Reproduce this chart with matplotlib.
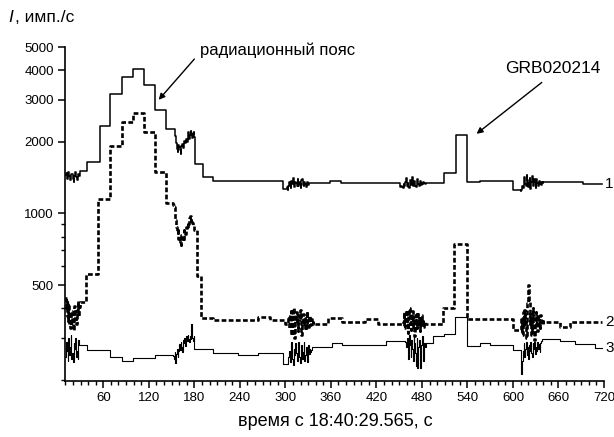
import numpy as np
import matplotlib.pyplot as plt
from matplotlib.ticker import FixedLocator, NullFormatter

plt.rcParams['font.family'] = ['Liberation Sans', 'DejaVu Sans']

# channel 1: plateau starts (s) and count rates
c1_t = [29, 38, 55, 69, 84, 99, 114, 128, 143, 181, 191, 205, 297, 332, 359, 373, 486, 509, 525, 540, 556, 600, 640, 692, 718]
c1_v = [1510, 1650, 2330, 3170, 3750, 4050, 3450, 2720, 2260, 1620, 1420, 1365, 1270, 1345, 1370, 1345, 1345, 1480, 2140, 1360, 1372, 1255, 1350, 1330, 1330]
# channel 1: fast fluctuation bursts, 1 s sampling
c1_b1 = [1450, 1480, 1390, 1420, 1500, 1440, 1380, 1410, 1470, 1460, 1400, 1350, 1430, 1490, 1420, 1380, 1440, 1470, 1430]
c1_b2 = [2230, 2120, 1980, 1870, 1820, 1940, 1900, 1850, 1780, 1920, 1960, 1880, 1940, 2010,
         1970, 2050, 2000, 2110, 2190, 2060, 2140, 2230, 2170, 2080, 2150, 2200, 2100]
c1_b3 = [1290, 1260, 1310, 1350, 1300, 1280, 1370, 1330, 1410, 1320, 1290, 1360, 1340, 1300, 1390,
         1310, 1350, 1330, 1280, 1380, 1400, 1320, 1300, 1360, 1330, 1290, 1340, 1350, 1320, 1340]
c1_b4 = [1290, 1295, 1300, 1290, 1285, 1330, 1300, 1360, 1410, 1310, 1340, 1290, 1280, 1380, 1350, 1320, 1420, 1300,
         1340, 1370, 1310, 1290, 1360, 1400, 1330, 1300, 1350, 1370, 1320, 1340, 1330, 1350, 1340, 1335, 1340]
c1_b5 = [1250, 1240, 1250, 1310, 1280, 1360, 1420, 1330, 1300, 1450, 1380, 1290, 1340, 1410, 1270, 1360,
         1440, 1320, 1300, 1390, 1350, 1280, 1400, 1340, 1310, 1370, 1330, 1360, 1320, 1350, 1345]
c1_bursts = [(10, c1_b1), (154, c1_b2), (302, c1_b3), (451, c1_b4), (609, c1_b5)]

# channel 2
c2_t = [29, 37, 53, 69, 84, 99, 114, 128, 143, 180, 183, 189, 205, 264, 280, 300, 337, 356, 374, 405, 422, 486, 508, 522, 540, 600, 640, 662, 675, 718]
c2_v = [425, 557, 1150, 1915, 2420, 2650, 2195, 1500, 1110, 850, 545, 364, 358, 366, 358, 345, 342, 363, 351, 359, 344, 342, 400, 746, 359, 323, 351, 333, 351, 351]
c2_b1 = [400, 440, 370, 355, 420, 340, 330, 365, 390, 350, 325, 380, 410, 360, 345, 395, 430, 370, 405]
c2_b2 = [1090, 1060, 1000, 940, 880, 830, 870, 780, 800, 760, 740, 810, 790, 770,
         850, 830, 820, 880, 860, 920, 900, 960, 980, 930, 950, 910, 890, 870]
c2_b3 = [370, 330, 345, 390, 310, 360, 400, 335, 300, 355, 385, 345, 320, 375, 360, 395, 330,
         310, 350, 380, 340, 365, 325, 355, 390, 345, 335, 370, 350, 340, 360, 345, 350]
c2_b4 = [350, 385, 330, 360, 395, 340, 315, 370, 400, 345, 325, 360, 390, 335, 350, 305,
         375, 355, 330, 385, 345, 365, 320, 350, 375, 340, 355, 335, 350, 345, 342]
c2_b5 = [325, 330, 360, 310, 385, 340, 395, 350, 300, 370, 420, 500, 430, 345, 380, 310,
         360, 400, 330, 295, 350, 385, 340, 320, 370, 355, 330, 375, 350, 345, 352]
c2_bursts = [(10, c2_b1), (152, c2_b2), (304, c2_b3), (455, c2_b4), (609, c2_b5)]

# channel 3
c3_t = [29, 38, 69, 84, 99, 128, 180, 205, 238, 264, 297, 335, 361, 374, 433, 486, 495, 509, 523, 540, 556, 570, 600, 638, 662, 682, 708, 718]
c3_v = [280, 266, 249, 241, 247, 254, 270, 259, 254, 259, 233, 275, 286, 281, 291, 286, 305, 312, 367, 277, 286, 280, 268, 296, 291, 284, 272, 272]
c3_b1 = [250, 290, 265, 240, 300, 255, 275, 310, 245, 260, 238, 285, 270, 300, 250, 265, 245, 295, 280]
c3_b2 = [252, 245, 262, 235, 258, 270, 250, 265, 282, 268, 290, 275, 262, 295,
         285, 300, 278, 305, 292, 310, 298, 288, 305, 296, 345, 300, 292, 305]
c3_b3 = [250, 265, 238, 280, 290, 245, 232, 270, 255, 285, 260, 240, 275, 290, 250, 235,
         268, 280, 245, 262, 288, 240, 255, 275, 265, 238, 280, 258, 270, 262, 268]
c3_b4 = [290, 275, 300, 260, 245, 310, 280, 250, 295, 270, 240, 305, 285, 260,
         230, 300, 225, 275, 295, 250, 225, 280, 305, 260, 240, 285, 275, 280]
c3_b5 = [212, 240, 265, 285, 250, 270, 290, 255, 275, 245, 280, 265, 290, 260,
         250, 285, 270, 288, 258, 276, 265, 290, 270, 282, 262, 285, 291]
c3_bursts = [(10, c3_b1), (152, c3_b2), (304, c3_b3), (458, c3_b4), (611, c3_b5)]

x_major = [60, 120, 180, 240, 300, 360, 420, 480, 540, 600, 660, 720]
y_major = [500, 1000, 2000, 3000, 4000, 5000]
y_minor = [200, 300, 400, 600, 700, 800, 900]


def build(steps_t, steps_v, bursts):
    """merge plateaus and 1-second bursts into one time-ordered step series"""
    pts = list(zip(steps_t, steps_v))
    for t0, vals in bursts:
        pts += [(t0 + i, v) for i, v in enumerate(vals)]
    pts.sort(key=lambda p: p[0])
    t = np.array([p[0] for p in pts], dtype=float)
    v = np.array([p[1] for p in pts], dtype=float)
    return t, v


fig = plt.figure(figsize=(6.14, 4.37), dpi=100)
ax = fig.add_axes([65 / 614, 56 / 437, 539 / 614, 334 / 437])

t1, v1 = build(c1_t, c1_v, c1_bursts)
t2, v2 = build(c2_t, c2_v, c2_bursts)
t3, v3 = build(c3_t, c3_v, c3_bursts)

ax.plot(t1, v1, drawstyle='steps-post', color='black', lw=1.1)
ax.plot(t2, v2, drawstyle='steps-post', color='black', lw=1.9, linestyle=(0, (1.8, 0.9)))
ax.plot(t3, v3, drawstyle='steps-post', color='black', lw=0.8)

ax.set_yscale('log')
ax.set_xlim(9.5, 720)
ax.set_ylim(198, 5000)

ax.yaxis.set_major_locator(FixedLocator(y_major))
ax.yaxis.set_minor_locator(FixedLocator(y_minor))
ax.yaxis.set_minor_formatter(NullFormatter())
ax.set_yticklabels([str(v) for v in y_major])
ax.xaxis.set_major_locator(FixedLocator(x_major))
ax.xaxis.set_minor_locator(FixedLocator(list(range(10, 720, 10))))
ax.set_xticklabels([str(v) for v in x_major])

ax.tick_params(which='major', direction='out', length=5, width=1.1, labelsize=9.5, pad=3)
ax.tick_params(which='minor', direction='out', length=3, width=1.0)
for side in ['top', 'right']:
    ax.spines[side].set_visible(False)
for side in ['left', 'bottom']:
    ax.spines[side].set_linewidth(1.2)

# curve numbers at the right end
ax.text(721.5, c1_v[-1], '1', fontsize=11, va='center', ha='left', clip_on=False)
ax.text(721.5, c2_v[-1], '2', fontsize=11, va='center', ha='left', clip_on=False)
ax.text(721.5, c3_v[-1], '3', fontsize=11, va='center', ha='left', clip_on=False)

arrow = dict(arrowstyle='-|>', color='black', lw=1.0, mutation_scale=9, shrinkA=0, shrinkB=0)
ax.annotate('', xy=(133, 3000), xytext=(180, 4450), arrowprops=arrow)
ax.text(187, 4830, 'радиационный пояс', fontsize=12, va='center', ha='left')
ax.annotate('', xy=(552, 2160), xytext=(638, 3550), arrowprops=arrow)
ax.text(653, 4060, 'GRB020214', fontsize=12.5, va='center', ha='center')

fig.text(8 / 614, 1 - 17 / 437, 'I', fontsize=12.5, style='italic', va='center', ha='left')
fig.text(15 / 614, 1 - 17 / 437, ', имп./с', fontsize=12.5, va='center', ha='left')
fig.text(335 / 614, 1 - 421 / 437, 'время с 18:40:29.565, с', fontsize=13, va='center', ha='center')

fig.savefig('out.png', dpi=100)
